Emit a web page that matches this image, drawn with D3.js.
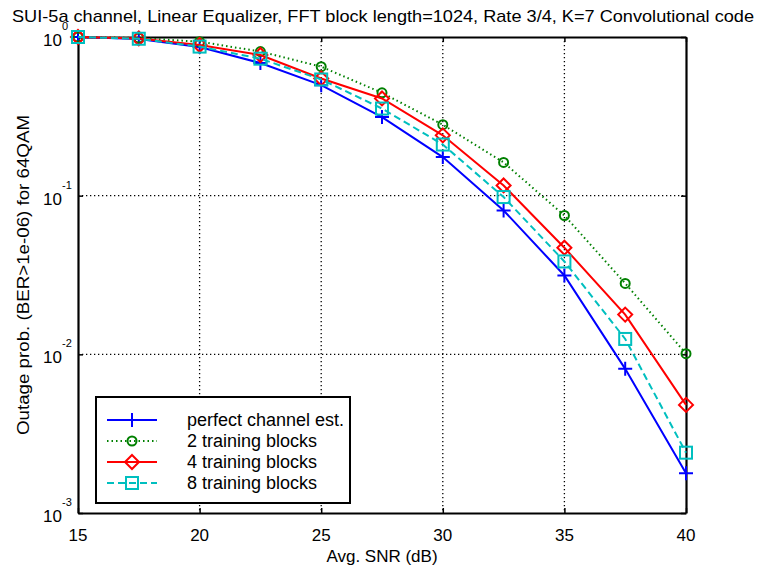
<!DOCTYPE html>
<html>
<head>
<meta charset="utf-8">
<script src="https://cdn.jsdelivr.net/npm/d3@7"></script>
<style>
  body { margin: 0; background: #fff; }
  text { font-family: "Liberation Sans", Arial, sans-serif; fill: #000; }
</style>
</head>
<body>
<script>
// values
var snr = [15, 17.5, 20, 22.5, 25, 27.5, 30, 32.5, 35, 37.5, 40];
var perfect = [1.0, 0.97, 0.865, 0.685, 0.497, 0.313, 0.175, 0.0807, 0.0314, 0.0081, 0.00178];
var train2  = [1.0, 0.985, 0.934, 0.81, 0.65, 0.445, 0.28, 0.162, 0.075, 0.028, 0.0101];
var train4  = [1.0, 0.98, 0.89, 0.77, 0.548, 0.41, 0.24, 0.116, 0.047, 0.0178, 0.0048];
var train8  = [1.0, 0.975, 0.87, 0.73, 0.54, 0.354, 0.21, 0.098, 0.0385, 0.0125, 0.0024];
var xTicks = [15, 20, 25, 30, 35, 40];
var yTicks = [1e-3, 1e-2, 1e-1, 1];
var yExps = ["-3", "-2", "-1", "0"];
var seriesNames = ["perfect channel est.", "2 training blocks", "4 training blocks", "8 training blocks"];

var series = [
  { name: seriesNames[0], vals: perfect, color: "#0000ff", dash: null, marker: "plus" },
  { name: seriesNames[1], vals: train2, color: "#008000", dash: "1.5,3", marker: "circle" },
  { name: seriesNames[2], vals: train4, color: "#ff0000", dash: null, marker: "diamond" },
  { name: seriesNames[3], vals: train8, color: "#00bfbf", dash: "7,4", marker: "square" }
];

var W = 770, H = 567;
var pl = 78, pr = 686, pt = 37, pb = 513;

var svg = d3.select("body").append("svg")
  .attr("width", W).attr("height", H);

var x = d3.scaleLinear().domain([15, 40]).range([pl, pr]);
var y = d3.scaleLog().domain([1e-3, 1]).range([pb, pt]);

// grid
var grid = svg.append("g");
xTicks.slice(1, -1).forEach(function(t) {
  grid.append("line")
    .attr("x1", x(t)).attr("x2", x(t)).attr("y1", pt).attr("y2", pb)
    .attr("stroke", "#000").attr("stroke-width", 1.3).attr("stroke-dasharray", "1.3,2.7");
});
yTicks.slice(1, -1).forEach(function(t) {
  grid.append("line")
    .attr("x1", pl).attr("x2", pr).attr("y1", y(t)).attr("y2", y(t))
    .attr("stroke", "#000").attr("stroke-width", 1.3).attr("stroke-dasharray", "1.3,2.7");
});

// axes box with inward ticks
var xAxisB = d3.axisBottom(x).tickValues(xTicks).tickSize(-5).tickSizeOuter(0).tickFormat("");
var xAxisT = d3.axisTop(x).tickValues(xTicks).tickSize(-5).tickSizeOuter(0).tickFormat("");
var yAxisL = d3.axisLeft(y).tickValues(yTicks).tickSize(-5).tickSizeOuter(0).tickFormat("");
var yAxisR = d3.axisRight(y).tickValues(yTicks).tickSize(-5).tickSizeOuter(0).tickFormat("");
[[xAxisB, "translate(0," + pb + ")"], [xAxisT, "translate(0," + pt + ")"],
 [yAxisL, "translate(" + pl + ",0)"], [yAxisR, "translate(" + pr + ",0)"]].forEach(function(a) {
  var g = svg.append("g").attr("transform", a[1]).call(a[0]);
  g.select(".domain").attr("stroke", "#000").attr("stroke-width", 2.2);
  g.selectAll(".tick line").attr("stroke", "#000").attr("stroke-width", 1.5);
});

// tick labels
xTicks.forEach(function(t) {
  svg.append("text").attr("x", x(t)).attr("y", 541)
    .attr("text-anchor", "middle").style("font-size", "17px").text(t);
});
yTicks.forEach(function(t, i) {
  var ty = y(t);
  svg.append("text").attr("x", 62).attr("y", ty + 9)
    .attr("text-anchor", "end").style("font-size", "17px").text("10");
  svg.append("text").attr("x", 62).attr("y", ty - 7)
    .attr("text-anchor", "start").style("font-size", "11px").text(yExps[i]);
});

// labels
svg.append("text").attr("x", (pl + pr) / 2).attr("y", 562)
  .attr("text-anchor", "middle").style("font-size", "17px").text("Avg. SNR (dB)");
svg.append("text")
  .attr("transform", "translate(29," + ((pt + pb) / 2) + ") rotate(-90)")
  .attr("text-anchor", "middle").style("font-size", "17px")
  .attr("textLength", 320).attr("lengthAdjust", "spacingAndGlyphs")
  .text("Outage prob. (BER>1e-06) for 64QAM");
svg.append("text").attr("x", (pl + pr) / 2 + 1).attr("y", 22)
  .attr("text-anchor", "middle").style("font-size", "17px")
  .attr("textLength", 742).attr("lengthAdjust", "spacingAndGlyphs")
  .text("SUI-5a channel, Linear Equalizer, FFT block length=1024, Rate 3/4, K=7 Convolutional code");

var drawMarker = function(g, kind, cx, cy, color) {
  if (kind === "plus") {
    g.append("path").attr("d", "M" + (cx - 7) + "," + cy + "H" + (cx + 7) + "M" + cx + "," + (cy - 7) + "V" + (cy + 7))
      .attr("stroke", color).attr("stroke-width", 2).attr("fill", "none");
  } else if (kind === "circle") {
    g.append("circle").attr("cx", cx).attr("cy", cy).attr("r", 4.5)
      .attr("stroke", color).attr("stroke-width", 2).attr("fill", "none");
  } else if (kind === "diamond") {
    g.append("path").attr("d", "M" + cx + "," + (cy - 7) + "L" + (cx + 7) + "," + cy + "L" + cx + "," + (cy + 7) + "L" + (cx - 7) + "," + cy + "Z")
      .attr("stroke", color).attr("stroke-width", 2).attr("fill", "none");
  } else {
    g.append("rect").attr("x", cx - 6).attr("y", cy - 6).attr("width", 12).attr("height", 12)
      .attr("stroke", color).attr("stroke-width", 2).attr("fill", "none");
  }
};

var line = d3.line().x(function(d) { return x(d[0]); }).y(function(d) { return y(d[1]); });

series.forEach(function(s) {
  var pts = snr.map(function(v, i) { return [v, s.vals[i]]; });
  var g = svg.append("g");
  g.append("path").datum(pts).attr("d", line)
    .attr("fill", "none").attr("stroke", s.color).attr("stroke-width", 2)
    .attr("stroke-dasharray", s.dash);
  pts.forEach(function(p) { drawMarker(g, s.marker, x(p[0]), y(p[1]), s.color); });
});

// legend
var lg = svg.append("g");
lg.append("rect").attr("x", 96).attr("y", 397).attr("width", 254).attr("height", 106)
  .attr("fill", "#fff").attr("stroke", "#000").attr("stroke-width", 2);
series.forEach(function(s, i) {
  var ly = 420 + i * 21;
  lg.append("line").attr("x1", 107).attr("x2", 157).attr("y1", ly).attr("y2", ly)
    .attr("stroke", s.color).attr("stroke-width", 2).attr("stroke-dasharray", s.dash);
  drawMarker(lg, s.marker, 132, ly, s.color);
  lg.append("text").attr("x", 187).attr("y", ly + 6).style("font-size", "18px").text(s.name);
});
</script>
</body>
</html>
